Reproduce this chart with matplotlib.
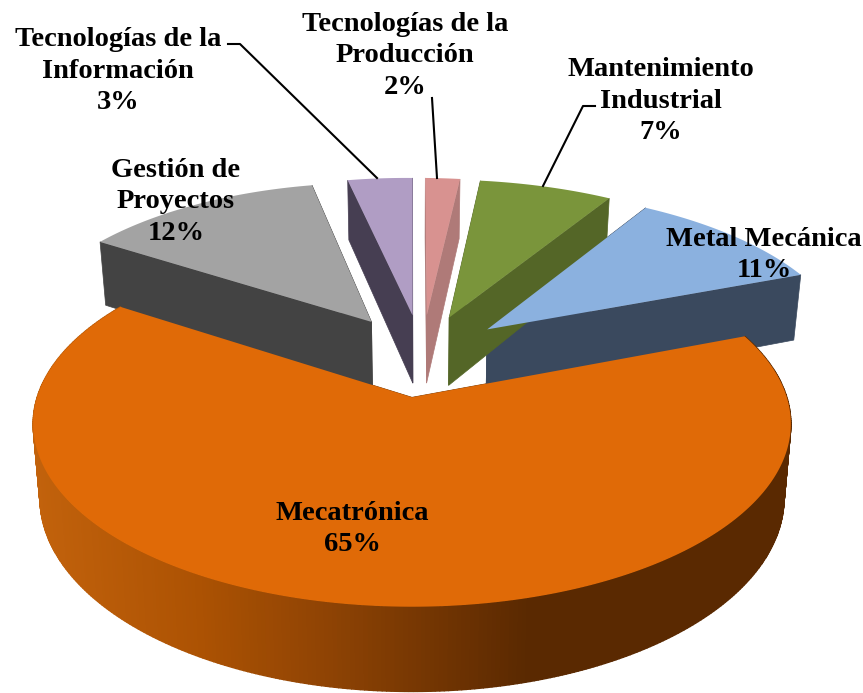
import numpy as np
import matplotlib
matplotlib.use('Agg')
import matplotlib.pyplot as plt

# slices in counterclockwise order, starting with the big one
categories = ['Mecatrónica', 'Metal Mecánica', 'Mantenimiento\nIndustrial',
              'Tecnologías de la\nProducción', 'Tecnologías de la\nInformación',
              'Gestión de\nProyectos']
pct_labels = ['65%', '11%', '7%', '2%', '3%', '12%']
# share of the circle as drawn, read from the slice edges (the 3D view bends them a bit)
shares = [65.0, 10.3, 6.75, 1.75, 3.45, 12.75]
top_colors = ['#E06A07', '#8BB1DF', '#7A953B', '#D89290', '#B09DC4', '#A3A3A3']
wall_colors = ['#7A3A02', '#3A495E', '#546627', '#AF7A78', '#463E52', '#434343']
label_pos = [(352, 529), (764, 255), (661, 101), (405, 56), (118, 71), (176, 202)]

# projection of the pie, fitted by eye
CX, CY = 412, 355
AX, AY = 362, 167
K = 0.14
DEPTH = 70
TAPER = 0.018
EXPLODE = 0.246
START = 147.0  # angle where the first slice begins, going counterclockwise
APEX_NUDGE = 8
RIM_LEAN = 0.025


def project(u, v, z=0.0):
    s = 1 / (1 + K * v)
    return CX + AX * u * s * (1 - TAPER * z), CY - AY * v * s + DEPTH * z * s


def slice_points(a0, a1, n=80, big=False):
    mid = np.radians((a0 + a1) / 2)
    ox, oy = EXPLODE * np.cos(mid), EXPLODE * np.sin(mid)
    if big:
        ox = 0.0
    t = np.radians(np.linspace(a0, a1, n))
    return ox, oy, ox + np.cos(t), oy + np.sin(t)


def lean(x):
    # small slices sit a little to the right of the fitted circle
    return x + RIM_LEAN * np.abs(x - CX)


def wall_color(x):
    # big slice side gets darker left to right
    stops = [35, 200, 330, 530, 800]
    return (np.interp(x, stops, [0xC2, 0xAC, 0x8E, 0x5A, 0x5A]) / 255,
            np.interp(x, stops, [0x62, 0x52, 0x43, 0x29, 0x29]) / 255,
            np.interp(x, stops, [0x0C, 0x03, 0x04, 0x01, 0x01]) / 255)


fig = plt.figure(figsize=(8.63, 6.93), dpi=100)
ax = fig.add_axes([0, 0, 1, 1])
ax.set_xlim(0, 863)
ax.set_ylim(693, 0)
ax.axis('off')

spans = []
a = START
for val in shares:
    spans.append((a, a + val * 3.6))
    a += val * 3.6

for i in [3, 4, 2, 5, 1, 0]:
    a0, a1 = spans[i]
    big = i == 0
    ox, oy, us, vs = slice_points(a0, a1, 400 if big else 80, big=big)
    tx, ty = project(np.r_[ox, us], np.r_[oy, vs])
    if not big:
        tx[0] += APEX_NUDGE
        tx[1:] = lean(tx[1:])

    # cut faces
    for (eu, ev) in [(us[0], vs[0]), (us[-1], vs[-1])]:
        pu = np.array([ox, eu, eu, ox])
        pv = np.array([oy, ev, ev, oy])
        px, py = project(pu, pv, np.array([0, 0, 1, 1]))
        if not big:
            px[[0, 3]] += APEX_NUDGE
            px[[1, 2]] = lean(px[[1, 2]])
        ax.fill(px, py, color=wall_colors[i], lw=0.5, zorder=2 + i * 0.01)

    # outer rim of the big slice, one quad per step
    if big:
        bx, by = project(us, vs, 1)
        ux, uy = project(us, vs, 0)
        for j in range(len(us) - 1):
            col = wall_color((ux[j] + ux[j + 1]) / 2)
            ax.fill([ux[j], ux[j + 1], bx[j + 1], bx[j]], [uy[j], uy[j + 1], by[j + 1], by[j]],
                    color=col, lw=1.0, zorder=3)

    ax.fill(tx, ty, color=top_colors[i], lw=0, zorder=6 if big else 4)

# leader lines
ax.plot([228, 240, 377], [44, 44, 178], color='black', lw=1.5, zorder=7)
ax.plot([432, 437], [98, 178], color='black', lw=1.5, zorder=7)
ax.plot([595, 583, 543], [106, 106, 186], color='black', lw=1.5, zorder=7)

for name, pct, (x, y) in zip(categories, pct_labels, label_pos):
    ax.text(x, y, f'{name}\n{pct}', ha='center', va='center', multialignment='center',
            family='Liberation Serif', fontweight='bold', fontsize=20.5, color='black',
            linespacing=1.33, zorder=8)

fig.savefig('out.png', dpi=100)
